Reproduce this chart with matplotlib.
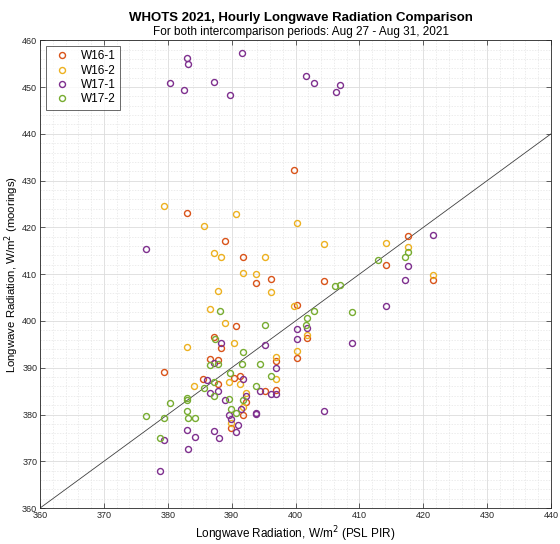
import matplotlib.pyplot as plt
from matplotlib.ticker import MultipleLocator

plt.rcParams['font.family'] = ['Liberation Sans', 'DejaVu Sans']

# PSL PIR (x) vs mooring (y) hourly longwave, W/m^2
w16_1_x = [383.0, 399.7, 389.0, 391.8, 396.1, 393.8, 404.5, 400.3, 390.7, 387.3,
           379.4, 386.6, 385.5, 388.3, 401.8, 400.2, 387.9, 397.0, 391.3, 390.4,
           387.9, 395.3, 396.9, 392.3, 391.8, 389.9, 417.6, 414.1, 421.6]
w16_1_y = [423.0, 432.2, 417.1, 413.7, 409.0, 408.1, 408.6, 403.5, 399.0, 396.6,
           389.1, 391.8, 387.7, 394.2, 396.3, 392.1, 391.7, 391.4, 388.3, 387.9,
           386.6, 385.1, 385.2, 382.6, 380.0, 377.2, 418.2, 412.0, 408.8]

w16_2_x = [379.4, 385.6, 387.3, 388.3, 387.8, 386.6, 390.7, 400.3, 404.5, 395.3,
           391.8, 393.8, 396.1, 399.7, 389.0, 401.8, 383.0, 384.1, 390.4, 400.2,
           397.0, 389.6, 391.3, 396.9, 392.3, 391.8, 389.9, 414.1, 417.6, 421.6]
w16_2_y = [424.6, 420.3, 414.5, 413.7, 406.4, 402.5, 422.9, 421.0, 416.4, 413.6,
           410.3, 410.0, 406.2, 403.2, 399.6, 397.0, 394.5, 386.2, 395.2, 393.5,
           392.4, 387.0, 386.6, 387.6, 384.7, 381.7, 378.2, 416.7, 415.8, 409.9]

w17_1_x = [380.4, 382.5, 383.0, 383.1, 387.3, 389.7, 391.7, 401.6, 402.9, 406.3,
           406.9, 376.6, 421.6, 417.6, 417.2, 414.1, 408.9, 404.5, 400.2, 401.8,
           400.3, 395.3, 388.3, 387.3, 386.1, 386.6, 387.9, 397.0, 391.8, 394.5,
           396.1, 396.9, 392.3, 389.0, 391.5, 393.8, 393.8, 389.6, 389.9, 391.0,
           390.7, 387.3, 388.0, 383.0, 384.2, 379.4, 383.1, 378.8]
w17_1_y = [450.9, 449.4, 456.3, 454.9, 451.0, 448.4, 457.2, 452.4, 450.9, 449.0,
           450.4, 415.3, 418.3, 411.7, 408.8, 403.2, 395.2, 380.7, 398.2, 398.6,
           396.1, 394.8, 395.3, 391.1, 387.4, 384.7, 385.0, 390.0, 387.5, 385.0,
           384.4, 384.4, 383.9, 383.1, 381.2, 380.1, 380.3, 379.8, 379.1, 377.8,
           376.2, 376.5, 375.0, 376.7, 375.1, 374.6, 372.6, 368.0]

w17_2_x = [412.9, 417.6, 417.2, 406.2, 406.9, 388.2, 402.9, 408.9, 401.8, 395.3,
           401.7, 387.4, 386.6, 387.9, 391.8, 391.7, 394.5, 389.7, 396.1, 387.2,
           385.6, 387.3, 393.8, 389.6, 391.8, 389.9, 390.7, 380.4, 383.0, 383.0,
           383.0, 376.6, 379.4, 383.1, 384.2, 378.8]
w17_2_y = [413.1, 414.7, 413.6, 407.4, 407.6, 402.1, 402.1, 402.0, 400.7, 399.2,
           399.2, 396.1, 390.6, 390.9, 393.4, 390.9, 390.7, 388.8, 388.3, 386.9,
           385.7, 383.9, 386.2, 383.4, 383.1, 381.1, 380.4, 382.5, 383.6, 383.0,
           380.8, 379.6, 379.3, 379.2, 379.2, 375.0]

series = [
    ('W16-1', w16_1_x, w16_1_y, '#D95319'),
    ('W16-2', w16_2_x, w16_2_y, '#EDB120'),
    ('W17-1', w17_1_x, w17_1_y, '#7E2F8E'),
    ('W17-2', w17_2_x, w17_2_y, '#77AC30'),
]

fig = plt.figure(figsize=(5.6, 5.44), dpi=100)
ax = fig.add_axes([0.0714, 0.066, 0.9126, 0.860])

for name, xs, ys, col in series:
    ax.plot(xs, ys, 'o', mfc='none', mec=col, mew=1.0, ms=4.3, label=name)

# 1:1 reference line
ax.plot([360, 440], [360, 440], color='#404040', lw=0.6, zorder=1)

ax.set_xlim(360, 440)
ax.set_ylim(360, 460)
ax.xaxis.set_major_locator(MultipleLocator(10))
ax.yaxis.set_major_locator(MultipleLocator(10))
ax.xaxis.set_minor_locator(MultipleLocator(2))
ax.yaxis.set_minor_locator(MultipleLocator(2))
ax.grid(True, which='major', color='#dcdcdc', lw=0.6)
ax.grid(True, which='minor', color='#e4e4e4', lw=0.5, ls=(0, (2, 2)))
ax.set_axisbelow(True)
ax.tick_params(which='major', direction='in', top=True, right=True, length=3.5,
               width=0.5, color='#262626', labelsize=6.5, labelcolor='#262626', pad=2)
ax.tick_params(which='minor', length=0)
for sp in ax.spines.values():
    sp.set_color('#262626')
    sp.set_linewidth(0.6)

ax.set_xlabel('Longwave Radiation, W/m$^2$ (PSL PIR)', fontsize=8.5, labelpad=3)
ax.set_ylabel('Longwave Radiation, W/m$^2$ (moorings)', fontsize=8.2, labelpad=1)
fig.text(0.537, 0.967, 'WHOTS 2021, Hourly Longwave Radiation Comparison',
         ha='center', va='center', fontsize=9.5, fontweight='bold')
fig.text(0.537, 0.942, 'For both intercomparison periods: Aug 27 - Aug 31, 2021',
         ha='center', va='center', fontsize=8.5)

leg = ax.legend(loc='upper left', fontsize=8.5, frameon=True, fancybox=False,
                borderaxespad=0.5, handletextpad=0.6, labelspacing=0.2,
                handlelength=2.0, borderpad=0.35)
leg.get_frame().set_edgecolor('#262626')
leg.get_frame().set_linewidth(0.6)

fig.savefig('out.png', dpi=100)
